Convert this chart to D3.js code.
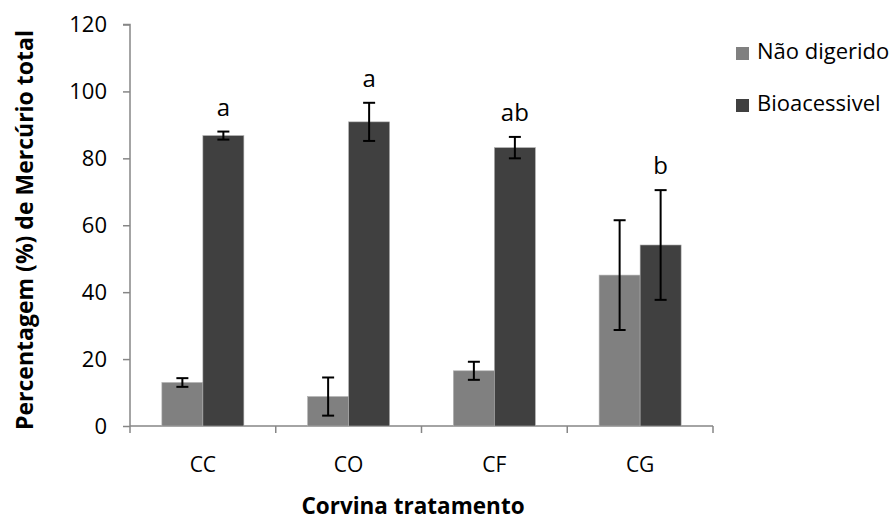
<!DOCTYPE html>
<html><head><meta charset="utf-8">
<script src="https://cdn.jsdelivr.net/npm/d3@7"></script>
<style>body{margin:0;background:#fff}svg{display:block}</style>
</head><body>
<svg id="c" width="896" height="522"></svg>
<script>
const categories = ["CC","CO","CF","CG"];
const seriesNames = ["Não digerido","Bioacessivel"];
const naoDigerido = [13.0, 8.8, 16.5, 45.1];
const naoDigeridoErr = [1.3, 5.7, 2.7, 16.4];
const bioacessivel = [86.8, 90.9, 83.2, 54.1];
const bioacessivelErr = [1.2, 5.7, 3.2, 16.4];
const letters = ["a","a","ab","b"];
const yTicks = [0,20,40,60,80,100,120];
const colors = ["#808080","#404040"];

const FONT = "'Open Sans', sans-serif";
const svg = d3.select("#c");
const x0 = 130, x1 = 713, yBase = 426, yTop = 24.5;
const x = d3.scaleBand().domain(categories).range([x0, x1]).paddingInner(0).paddingOuter(0);
const y = d3.scaleLinear().domain([0,120]).range([yBase, yTop]);
const barW = 41;
const series = [
  {name: seriesNames[0], vals: naoDigerido, err: naoDigeridoErr, color: colors[0]},
  {name: seriesNames[1], vals: bioacessivel, err: bioacessivelErr, color: colors[1]}
];

// y axis
const yAxis = d3.axisLeft(y).tickValues(yTicks).tickSize(7).tickPadding(16).tickFormat(d3.format("d"));
const gy = svg.append("g").attr("transform", `translate(${x0},0)`).call(yAxis);
gy.select(".domain").attr("stroke", "#868686").attr("stroke-width", 1.5).attr("d", `M-7,${yTop}H0V${yBase}`);
gy.selectAll(".tick line").attr("stroke", "#868686").attr("stroke-width", 1.5);
gy.selectAll(".tick text").attr("font-family", FONT).attr("font-size", 22).attr("fill", "#000");

// x axis
const xAxis = d3.axisBottom(x).tickSize(0).tickPadding(31);
const gx = svg.append("g").attr("transform", `translate(0,${yBase})`).call(xAxis);
gx.select(".domain").attr("stroke", "#868686").attr("stroke-width", 1.5).attr("d", `M${x0},0H${x1}`);
gx.selectAll(".tick text").attr("font-family", FONT).attr("font-size", 21).attr("fill", "#000");
// category boundary ticks
const bounds = categories.map(c => x(c)).concat([x1]);
svg.append("g").selectAll("line").data(bounds).join("line")
  .attr("x1", d => d).attr("x2", d => d).attr("y1", yBase).attr("y2", yBase + 7)
  .attr("stroke", "#868686").attr("stroke-width", 1.5);

// bars
series.forEach((s, si) => {
  const g = svg.append("g");
  const cx = c => x(c) + x.bandwidth()/2 - barW + si*barW;
  g.selectAll("rect").data(categories).join("rect")
    .attr("x", c => cx(c)).attr("width", barW)
    .attr("y", (c,i) => y(s.vals[i])).attr("height", (c,i) => yBase - y(s.vals[i]))
    .attr("fill", s.color).attr("stroke", "#b0b0b0").attr("stroke-width", 0.6);
  // error bars
  const eg = svg.append("g").attr("stroke", "#000").attr("stroke-width", 2);
  categories.forEach((c, i) => {
    const ex = cx(c) + barW/2;
    const hi = y(s.vals[i] + s.err[i]), lo = y(s.vals[i] - s.err[i]);
    eg.append("line").attr("x1", ex).attr("x2", ex).attr("y1", hi).attr("y2", lo);
    eg.append("line").attr("x1", ex-6).attr("x2", ex+6).attr("y1", hi).attr("y2", hi);
    eg.append("line").attr("x1", ex-6).attr("x2", ex+6).attr("y1", lo).attr("y2", lo);
  });
});

// significance letters
svg.append("g").selectAll("text").data(categories).join("text")
  .attr("x", c => x(c) + x.bandwidth()/2 + barW/2)
  .attr("y", (c,i) => y(bioacessivel[i] + bioacessivelErr[i]) - 16)
  .attr("text-anchor", "middle").attr("font-family", FONT).attr("font-size", 24)
  .text((c,i) => letters[i]);

// axis titles
svg.append("text").attr("x", 413).attr("y", 514).attr("text-anchor", "middle")
  .attr("font-family", FONT).attr("font-size", 22.5).attr("font-weight", "bold").text("Corvina tratamento");
svg.append("text").attr("transform", `translate(33,${230}) rotate(-90)`).attr("text-anchor", "middle")
  .attr("font-family", FONT).attr("font-size", 23).attr("font-weight", "bold").text("Percentagem (%) de Mercúrio total");

// legend
const lg = svg.append("g");
series.forEach((s, i) => {
  const ly = 59 + i*52;
  lg.append("rect").attr("x", 736).attr("y", ly - 12).attr("width", 13).attr("height", 13).attr("fill", s.color);
  lg.append("text").attr("x", 757).attr("y", ly).attr("font-family", FONT).attr("font-size", 22).text(s.name);
});
</script>
</body></html>
